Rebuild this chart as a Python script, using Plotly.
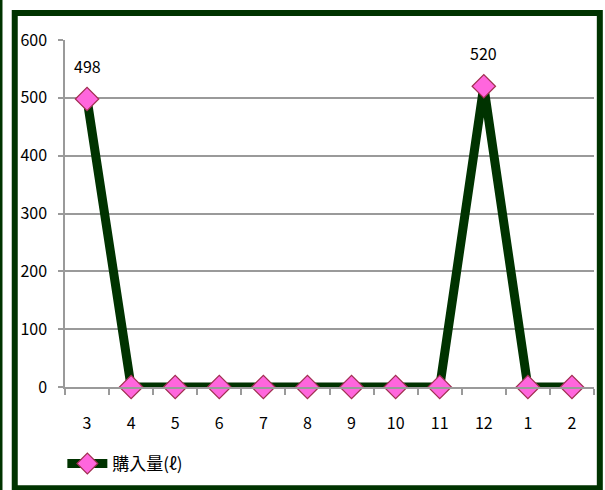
import plotly.graph_objects as go

months = ["3", "4", "5", "6", "7", "8", "9", "10", "11", "12", "1", "2"]
amounts = [498, 0, 0, 0, 0, 0, 0, 0, 0, 520, 0, 0]
labels = ["498", "", "", "", "", "", "", "", "", "520", "", ""]
series_name = "購入量(ℓ)"
y_ticks = [0, 100, 200, 300, 400, 500, 600]

font_family = "Liberation Sans Narrow, Noto Sans CJK JP, sans-serif"

fig = go.Figure()
fig.add_trace(go.Scatter(
    x=months, y=amounts, mode="lines+markers", name=series_name,
    line=dict(color="#003300", width=9),
    marker=dict(symbol="diamond", size=18, color="#ff66dd",
                line=dict(color="#a03050", width=1.2)),
    cliponaxis=False,
))

for i, (v, t) in enumerate(zip(amounts, labels)):
    if t:
        fig.add_annotation(x=i, y=v, text=t, showarrow=False, yshift=33,
                           font=dict(size=16, color="#000000", family=font_family))

fig.update_layout(
    width=605, height=490,
    paper_bgcolor="white", plot_bgcolor="white",
    margin=dict(l=65, r=11, t=40, b=103, autoexpand=False),
    font=dict(family=font_family, size=16, color="#000000"),
    showlegend=True,
    legend=dict(orientation="h", x=-0.005, y=-0.17, xanchor="left", yanchor="top",
                font=dict(size=17), itemwidth=40, bgcolor="rgba(0,0,0,0)"),
    xaxis=dict(type="category", range=[-0.5, 11.5], showgrid=False,
               showline=True, linecolor="#9a9a9a", linewidth=1.5,
               zeroline=False, ticks="outside", tickson="boundaries",
               ticklen=6, tickcolor="#9a9a9a", tickwidth=1.5,
               tickfont=dict(size=16), ticklabelstandoff=21),
    yaxis=dict(range=[0, 600], tickvals=y_ticks, showgrid=True,
               gridcolor="#9a9a9a", gridwidth=1.5, zeroline=False,
               showline=True, linecolor="#9a9a9a", linewidth=1.5,
               ticks="outside", ticklen=5, tickcolor="#9a9a9a", tickwidth=1.5,
               tickfont=dict(size=16), ticklabelstandoff=8),
    shapes=[
        dict(type="rect", xref="paper", yref="paper",
             x0=-0.095, x1=1.011, y0=-0.292, y1=1.078,
             line=dict(color="#003300", width=6), fillcolor="rgba(0,0,0,0)",
             layer="below"),
        dict(type="line", xref="paper", yref="paper",
             x0=-0.121, x1=-0.121, y0=-0.35, y1=1.2,
             line=dict(color="#003300", width=3)),
    ],
)

fig.write_html("out.html")
